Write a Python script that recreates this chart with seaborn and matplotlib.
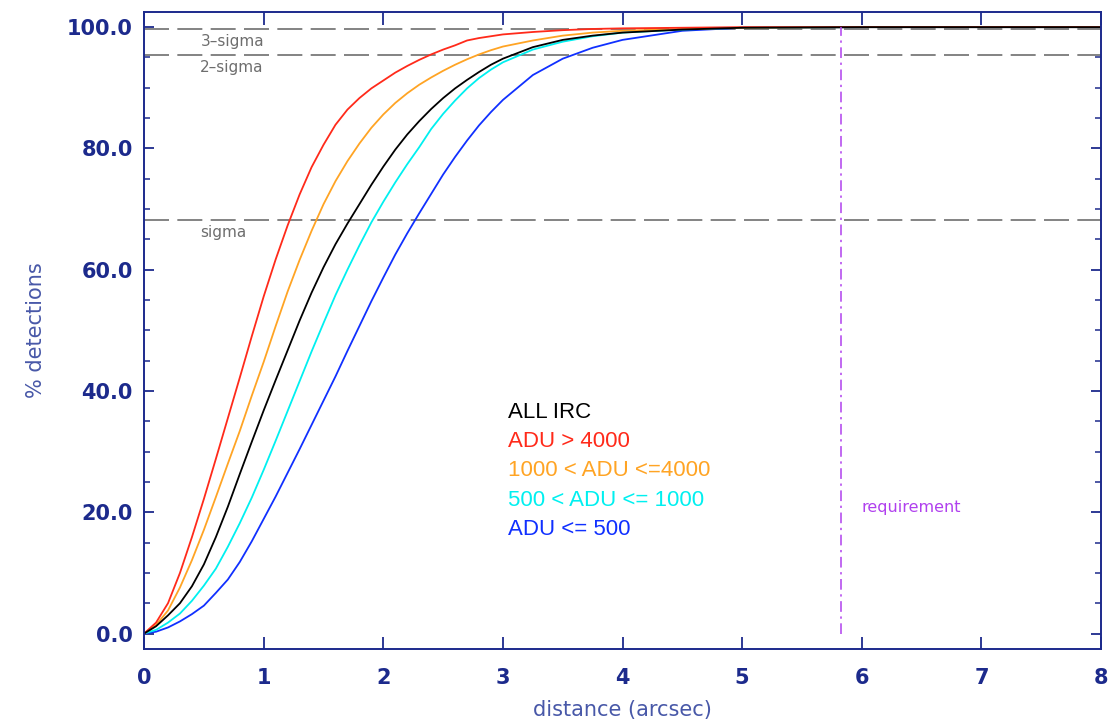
import numpy as np
import pandas as pd
import matplotlib
matplotlib.use("Agg")
import matplotlib.pyplot as plt
from matplotlib.ticker import MultipleLocator, FormatStrFormatter
import seaborn as sns

# ---- data ----
distance = [0.0, 0.1, 0.2, 0.3, 0.4, 0.5, 0.6, 0.7, 0.8, 0.9,
            1.0, 1.1, 1.2, 1.3, 1.4, 1.5, 1.6, 1.7, 1.8, 1.9,
            2.0, 2.1, 2.2, 2.3, 2.4, 2.5, 2.6, 2.7, 2.8, 2.9,
            3.0, 3.25, 3.5, 3.75, 4.0, 4.5, 5.0, 6.0, 8.0]

adu_gt_4000 = [0.0, 1.8, 5.0, 10.0, 15.9, 22.2, 28.8, 35.5, 42.2, 49.0,
               55.6, 61.7, 67.3, 72.4, 76.9, 80.6, 83.9, 86.4, 88.3, 89.9,
               91.2, 92.5, 93.6, 94.6, 95.5, 96.3, 97.0, 97.8, 98.2, 98.5,
               98.8, 99.2, 99.5, 99.7, 99.8, 99.9, 100.0, 100.0, 100.0]
adu_1000_4000 = [0.0, 1.4, 3.8, 7.6, 12.1, 17.1, 22.5, 28.0, 33.4, 39.2,
                 44.8, 50.7, 56.4, 61.6, 66.4, 70.8, 74.6, 77.9, 80.8, 83.4,
                 85.6, 87.5, 89.1, 90.5, 91.7, 92.8, 93.8, 94.7, 95.5, 96.2,
                 96.8, 97.8, 98.6, 99.1, 99.4, 99.7, 99.9, 100.0, 100.0]
all_irc = [0.0, 1.2, 3.0, 5.0, 7.8, 11.4, 15.9, 20.9, 26.3, 31.6,
           36.8, 41.8, 46.7, 51.6, 56.2, 60.4, 64.2, 67.6, 70.8, 74.0,
           77.0, 79.8, 82.3, 84.5, 86.5, 88.3, 89.9, 91.3, 92.6, 93.8,
           94.8, 96.7, 97.9, 98.6, 99.1, 99.6, 99.9, 100.0, 100.0]
adu_500_1000 = [0.0, 0.6, 1.8, 3.3, 5.4, 7.9, 10.7, 14.3, 18.2, 22.4,
                27.0, 31.8, 36.7, 41.6, 46.5, 51.2, 55.8, 60.0, 64.0, 67.8,
                71.2, 74.4, 77.4, 80.2, 83.2, 85.7, 87.9, 89.9, 91.6, 93.0,
                94.2, 96.3, 97.6, 98.5, 99.1, 99.6, 99.9, 100.0, 100.0]
adu_le_500 = [0.0, 0.3, 1.0, 2.0, 3.2, 4.6, 6.7, 8.9, 11.8, 15.2,
              18.9, 22.6, 26.5, 30.4, 34.4, 38.4, 42.4, 46.6, 50.7, 54.8,
              58.7, 62.5, 66.0, 69.3, 72.5, 75.7, 78.6, 81.3, 83.8, 86.0,
              88.0, 92.1, 94.8, 96.6, 97.9, 99.4, 99.9, 100.0, 100.0]

series_names = ["ALL IRC", "ADU > 4000", "1000 < ADU <=4000", "500 < ADU <= 1000", "ADU <= 500"]
series_values = [all_irc, adu_gt_4000, adu_1000_4000, adu_500_1000, adu_le_500]
series_colors = ["#000000", "#ff2a1a", "#ffa424", "#00f0f0", "#1030ff"]

sigma_levels = [99.73, 95.45, 68.27]
sigma_labels = ["3\u2013sigma", "2\u2013sigma", "sigma"]
requirement_x = 5.83

x_ticks = [0, 1, 2, 3, 4, 5, 6, 7, 8]
y_ticks = [0, 20, 40, 60, 80, 100]

# ---- build table ----
rows = []
for name, vals in zip(series_names, series_values):
    for d, v in zip(distance, vals):
        rows.append({"distance": d, "pct": v, "series": name})
df = pd.DataFrame(rows)

sns.set_theme(style="white")
plt.rcParams["font.family"] = ["DejaVu Sans"]

navy = "#1c2a8c"
fig = plt.figure(figsize=(11.17, 7.26), dpi=100)
ax = fig.add_axes([0.129, 0.106, 0.8567, 0.8775])

order = ["ADU <= 500", "500 < ADU <= 1000", "1000 < ADU <=4000", "ADU > 4000", "ALL IRC"]
palette = dict(zip(series_names, series_colors))
for name in order:
    sub = df[df["series"] == name]
    sns.lineplot(data=sub, x="distance", y="pct", color=palette[name], lw=1.3,
                 ax=ax, legend=False, sort=True)

# sigma lines
for lvl, lab in zip(sigma_levels, sigma_labels):
    ax.axhline(lvl, color="#6e6e6e", lw=1.2, linestyle=(0, (15, 5)), zorder=1)
    ax.text(0.47, lvl - 2.1, lab, color="#6e6e6e", fontsize=11, va="center", ha="left",
            family="DejaVu Sans")

# requirement line
ax.vlines(requirement_x, 0, 100, colors="#b040ee", lw=1.1, linestyles=(0, (7, 3, 1.5, 3)))
ax.text(6.0, 20.7, "requirement", color="#b040ee", fontsize=11.5, va="center", ha="left")

# legend texts
leg_y = [36.5, 31.7, 26.9, 22.0, 17.1]
for name, col, yy in zip(series_names, series_colors, leg_y):
    ax.text(3.04, yy, name, color=col, fontsize=16, va="center", ha="left",
            family="Liberation Sans")

ax.set_xlim(0, 8)
ax.set_ylim(-2.56, 102.5)
ax.set_xticks(x_ticks)
ax.set_yticks(y_ticks)
ax.yaxis.set_minor_locator(MultipleLocator(5))
ax.yaxis.set_major_formatter(FormatStrFormatter("%.1f"))
ax.xaxis.set_major_formatter(FormatStrFormatter("%d"))

for s in ax.spines.values():
    s.set_color(navy)
    s.set_linewidth(1.4)
    s.set_visible(True)

ax.tick_params(axis="both", which="both", direction="in", colors=navy,
               top=True, right=True, bottom=True, left=True)
ax.tick_params(axis="x", which="major", length=9, width=1.3, labelsize=15, pad=14)
ax.tick_params(axis="y", which="major", length=7, width=1.3, labelsize=15, pad=8)
ax.tick_params(axis="y", which="minor", length=4, width=1.1)
for lbl in ax.get_xticklabels() + ax.get_yticklabels():
    lbl.set_fontweight("bold")
    lbl.set_color(navy)

ax.set_xlabel("distance (arcsec)", color="#4858a8", fontsize=15, labelpad=8)
ax.set_ylabel("% detections", color="#4858a8", fontsize=15, labelpad=15)
ax.grid(False)

fig.savefig("out.png", dpi=100, facecolor="white")
